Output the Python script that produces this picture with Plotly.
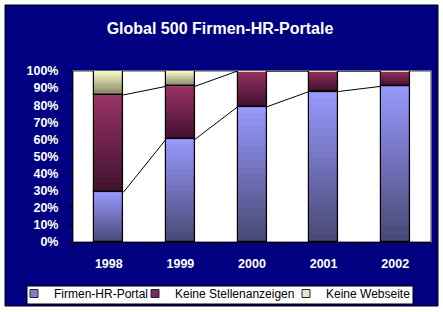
import plotly.graph_objects as go

# ---- data ----
years = ["1998", "1999", "2000", "2001", "2002"]
series_names = ["Firmen-HR-Portal", "Keine Stellenanzeigen", "Keine Webseite"]
portal = [29, 60, 79, 88, 91]
stellen = [57, 31, 21, 12, 9]
webseite = [14, 9, 0, 0, 0]
y_ticks = [0, 10, 20, 30, 40, 50, 60, 70, 80, 90, 100]
y_ticktext = [f"{t}%" for t in y_ticks]

# ---- styling ----
W, H = 443, 312
PL, PR, PT, PB = 73, 431, 71, 242          # plot area in pixels
NAVY = "#000080"
FONT = "Liberation Sans, Arial, sans-serif"
bar_w = 0.405
n_bands = 20
grad = {  # (bottom colour, top colour)
    "Firmen-HR-Portal": ((72, 72, 116), (153, 153, 255)),
    "Keine Stellenanzeigen": ((64, 18, 46), (153, 51, 102)),
    "Keine Webseite": ((126, 126, 96), (255, 255, 204)),
}
legend_col = {
    "Firmen-HR-Portal": "#8080c8",
    "Keine Stellenanzeigen": "#7a2a55",
    "Keine Webseite": "#e6e6c0",
}
legend_w = {"Firmen-HR-Portal": 76, "Keine Stellenanzeigen": 106, "Keine Webseite": 86}

x = list(range(len(years)))
values = [portal, stellen, webseite]
bases = []
run = [0] * len(years)
for v in values:
    bases.append(run[:])
    run = [r + a for r, a in zip(run, v)]


def mix(c0, c1, t):
    return "rgb(%d,%d,%d)" % tuple(round(a + (b - a) * t) for a, b in zip(c0, c1))


fig = go.Figure()

for name, v, b in zip(series_names, values, bases):
    c0, c1 = grad[name]
    fig.add_trace(go.Bar(x=x, y=v, base=b, width=bar_w, name=name,
                         marker=dict(color=mix(c0, c1, 0.5), line=dict(width=0)),
                         showlegend=False, hoverinfo="skip"))
    for k in range(n_bands):
        col = mix(c0, c1, (k + 0.5) / n_bands)
        fig.add_trace(go.Bar(
            x=x, y=[vi / n_bands for vi in v],
            base=[bi + vi * k / n_bands for bi, vi in zip(b, v)],
            width=bar_w, marker=dict(color=col, line=dict(color=col, width=0.6)),
            showlegend=False, hoverinfo="skip"))

for name, v, b in zip(series_names, values, bases):
    fig.add_trace(go.Bar(x=x, y=v, base=b, width=bar_w,
                         marker=dict(color="rgba(0,0,0,0)", line=dict(color="black", width=1.2)),
                         showlegend=False, hoverinfo="skip"))

for top in [bases[1], bases[2]]:
    lx, ly = [], []
    for i in range(len(years) - 1):
        lx += [x[i] + bar_w / 2, x[i + 1] - bar_w / 2, None]
        ly += [top[i], top[i + 1], None]
    fig.add_trace(go.Scatter(x=lx, y=ly, mode="lines", line=dict(color="black", width=1),
                             showlegend=False, hoverinfo="skip"))

for name in series_names:
    fig.add_trace(go.Scatter(x=[None], y=[None], mode="markers", name=name,
                             legendwidth=legend_w[name],
                             marker=dict(symbol="square", size=8, color=legend_col[name],
                                         line=dict(color="#202040", width=1))))

pw, ph = PR - PL, PB - PT


def px_x(p):
    return (p - PL) / pw


def px_y(p):
    return (PB - p) / ph


fig.update_layout(
    width=W, height=H,
    margin=dict(l=PL, r=W - PR, t=PT, b=H - PB, pad=0, autoexpand=False),
    paper_bgcolor="white", plot_bgcolor="white",
    barmode="overlay", bargap=0,
    font=dict(family=FONT, color="white", size=12),
    title=dict(text="Global 500 Firmen-HR-Portale", xref="container", yref="container",
               x=220 / W, y=1 - 28 / H, xanchor="center", yanchor="middle",
               font=dict(size=16, color="white", weight="bold", family=FONT)),
    shapes=[
        dict(type="rect", xref="paper", yref="paper", layer="below",
             x0=px_x(5), x1=px_x(438), y0=px_y(306), y1=px_y(5),
             fillcolor=NAVY, line=dict(color="black", width=1)),
        dict(type="rect", xref="paper", yref="paper", layer="below",
             x0=0, x1=1, y0=0, y1=1, fillcolor="white", line=dict(color="#808080", width=1.5)),
        # legend frame
        dict(type="rect", xref="paper", yref="paper", layer="above",
             x0=px_x(27), x1=px_x(413), y0=px_y(304), y1=px_y(286),
             fillcolor="white", line=dict(color="black", width=1)),
    ],
    xaxis=dict(range=[-0.5, len(years) - 0.5], tickmode="array", tickvals=x, ticktext=years,
               ticks="", showgrid=False, zeroline=False, showline=True, linecolor="black",
               linewidth=1, tickfont=dict(size=12.5, color="white", family=FONT, weight="bold"),
               ticklabelstandoff=10,
               minor=dict(tickmode="array", tickvals=[i - 0.5 for i in range(len(years) + 1)],
                          ticks="outside", ticklen=4, tickcolor="black", tickwidth=1),
               fixedrange=True),
    yaxis=dict(range=[0, 100], tickmode="array", tickvals=y_ticks, ticktext=y_ticktext,
               ticks="outside", ticklen=4, tickcolor="black", showgrid=False, zeroline=False,
               showline=True, linecolor="black", linewidth=1, ticklabelstandoff=7,
               tickfont=dict(size=12.5, color="white", family=FONT, weight="bold"),
               fixedrange=True),
    legend=dict(orientation="h", x=px_x(14), xanchor="left", y=px_y(279), yanchor="top",
                bgcolor="rgba(0,0,0,0)", borderwidth=0,
                font=dict(size=12, color="black", family=FONT),
                itemwidth=30, tracegroupgap=0),
)

fig.write_html("out.html")
